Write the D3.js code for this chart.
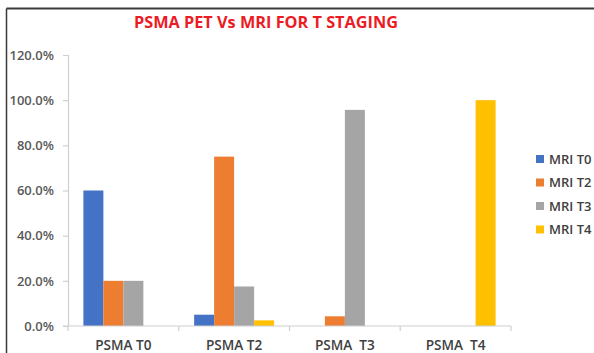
<!DOCTYPE html>
<html>
<head>
<meta charset="utf-8">
<script src="https://cdn.jsdelivr.net/npm/d3@7"></script>
<style>
  html, body { margin: 0; padding: 0; background: #fff; }
  svg { display: block; }
  text { font-family: "Open Sans", "Noto Sans", sans-serif; }
</style>
</head>
<body>
<svg id="chart" width="594" height="353"></svg>
<script>
// Share of patients by MRI T stage within each PSMA PET T stage (%)
const categories = ["PSMA T0", "PSMA T2", "PSMA  T3", "PSMA  T4"];
const seriesNames = ["MRI T0", "MRI T2", "MRI T3", "MRI T4"];
const mriT0 = [60, 5, 0, 0];
const mriT2 = [20, 75, 4.3, 0];
const mriT3 = [20, 17.5, 95.7, 0];
const mriT4 = [0, 2.5, 0, 100];
const yTicks = [0, 20, 40, 60, 80, 100, 120];
const colors = ["#4472c4", "#ed7d31", "#a5a5a5", "#ffc000"];

const seriesValues = [mriT0, mriT2, mriT3, mriT4];
const rows = categories.map((c, i) => ({
  category: c,
  values: seriesNames.map((s, j) => ({ series: s, value: seriesValues[j][i] }))
}));

const svg = d3.select("#chart");

// frame
svg.append("line").attr("x1", 6.5).attr("x2", 594).attr("y1", 8.5).attr("y2", 8.5)
  .attr("stroke", "#3a3a3a").attr("stroke-width", 2);
svg.append("line").attr("x1", 6.5).attr("x2", 6.5).attr("y1", 8.5).attr("y2", 353)
  .attr("stroke", "#3a3a3a").attr("stroke-width", 1.5);

const plot = { left: 68, right: 511, top: 55, bottom: 326 };

const x0 = d3.scaleBand().domain(categories).range([plot.left, plot.right]).padding(0);
const x1 = d3.scaleBand().domain(seriesNames).range([0, x0.bandwidth()])
  .paddingInner(0).paddingOuter(0.77);
const y = d3.scaleLinear().domain([0, 120]).range([plot.bottom, plot.top]);

// title
svg.append("text")
  .attr("x", 266).attr("y", 28)
  .attr("text-anchor", "middle")
  .attr("fill", "#ec1c24")
  .attr("font-size", 16.3)
  .attr("font-weight", 700)
  .text("PSMA PET Vs MRI FOR T STAGING");

// y axis
const yAxis = d3.axisLeft(y).tickValues(yTicks).tickSize(5).tickPadding(9)
  .tickFormat(d => d.toFixed(1) + "%");
const gy = svg.append("g").attr("transform", `translate(${plot.left},0)`).call(yAxis);
gy.select(".domain").attr("stroke", "#d0d0d0").attr("stroke-width", 1.2);
gy.selectAll(".tick line").attr("stroke", "#d0d0d0").attr("stroke-width", 1.2);
gy.selectAll(".tick text")
  .attr("fill", "#595959").attr("font-size", 13).attr("font-weight", 600)
  .attr("font-family", "'Open Sans', sans-serif");

// bars
const groups = svg.append("g").selectAll("g").data(rows).join("g")
  .attr("transform", d => `translate(${x0(d.category)},0)`);
groups.selectAll("rect").data(d => d.values).join("rect")
  .attr("x", d => x1(d.series))
  .attr("y", d => y(d.value))
  .attr("width", x1.bandwidth())
  .attr("height", d => plot.bottom - y(d.value))
  .attr("fill", (d, i) => colors[i]);

// x axis
const gx = svg.append("g").attr("transform", `translate(0,${plot.bottom})`);
gx.append("line").attr("x1", plot.left - 5).attr("x2", plot.right).attr("y1", 0).attr("y2", 0)
  .attr("stroke", "#d0d0d0").attr("stroke-width", 1.2);
const boundaries = categories.map(c => x0(c)).concat([x0(categories[categories.length - 1]) + x0.bandwidth()]);
gx.selectAll("line.tk").data(boundaries).join("line").attr("class", "tk")
  .attr("x1", d => d).attr("x2", d => d).attr("y1", 0).attr("y2", 5)
  .attr("stroke", "#d0d0d0").attr("stroke-width", 1.2);
gx.selectAll("text").data(categories).join("text")
  .attr("x", d => x0(d) + x0.bandwidth() / 2)
  .attr("y", 23.5)
  .attr("text-anchor", "middle")
  .attr("fill", "#404040").attr("font-size", 13.6).attr("font-weight", 600)
  .style("white-space", "pre")
  .text(d => d);

// legend
const legend = svg.append("g").attr("transform", "translate(536,159)");
const li = legend.selectAll("g").data(seriesNames).join("g")
  .attr("transform", (d, i) => `translate(0,${i * 23.5})`);
li.append("rect").attr("x", 0).attr("y", -4).attr("width", 8).attr("height", 8)
  .attr("fill", (d, i) => colors[i]);
li.append("text").attr("x", 13).attr("y", 4.6)
  .attr("fill", "#404040").attr("font-size", 13).attr("font-weight", 600)
  .text(d => d);
</script>
</body>
</html>
